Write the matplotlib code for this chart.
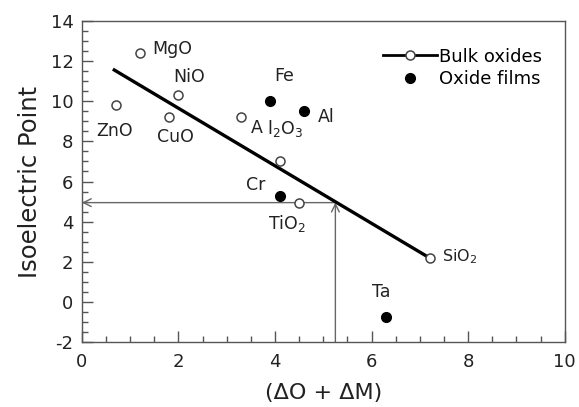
import matplotlib
matplotlib.use("Agg")
import matplotlib.pyplot as plt
from matplotlib.ticker import MultipleLocator

plt.rcParams['font.family'] = ['DejaVu Sans']
plt.rcParams['axes.unicode_minus'] = False

# Bulk oxides (open circles)
bulk_names = ["ZnO", "MgO", "CuO", "NiO", "Al2O3", "", "TiO2", "SiO2"]
bulk_x = [0.7, 1.2, 1.8, 2.0, 3.3, 4.1, 4.5, 7.2]
bulk_y = [9.8, 12.4, 9.2, 10.3, 9.2, 7.0, 4.95, 2.2]

# Oxide films (filled circles)
film_names = ["Fe", "Al", "Cr", "Ta"]
film_x = [3.9, 4.6, 4.1, 6.3]
film_y = [10.0, 9.5, 5.3, -0.75]

# Trend line through the bulk oxides
trend_x = [0.67, 7.2]
trend_y = [11.55, 2.2]

# Reading of the trend line
read_x = 5.25
read_y = 4.95

fig = plt.figure(figsize=(5.79, 4.07), dpi=100)
ax = fig.add_axes([0.1415, 0.159, 0.8338, 0.79])

frame_col = "#555555"
ax.plot(trend_x, trend_y, color="black", lw=2.4, zorder=3)
ax.plot(bulk_x, bulk_y, "o", mfc="white", mec="#444444", mew=1.1, ms=6.5, zorder=4)
ax.plot(film_x, film_y, "o", color="black", ms=7, zorder=4)

# Arrows showing the reading of the line
arrow_kw = dict(arrowstyle="->", color="#666666", lw=1.0, mutation_scale=14, shrinkA=0, shrinkB=0)
ax.annotate("", xy=(0, read_y), xytext=(read_x, read_y), arrowprops=arrow_kw, zorder=2)
ax.annotate("", xy=(read_x, read_y), xytext=(read_x, -2), arrowprops=arrow_kw, zorder=2)

lab = dict(fontsize=12.5, color="#222222")
ax.text(1.46, 12.6, "MgO", va="center", ha="left", **lab)
ax.text(1.89, 11.2, "NiO", va="center", ha="left", **lab)
ax.text(0.29, 8.5, "ZnO", va="center", ha="left", **lab)
ax.text(1.56, 8.2, "CuO", va="center", ha="left", **lab)
ax.text(3.5, 8.66, "A", va="center", ha="left", **lab)
ax.text(3.84, 8.66, "l$_2$O$_3$", va="center", ha="left", **lab)
ax.text(3.85, 3.9, "TiO$_2$", va="center", ha="left", **lab)
ax.text(7.45, 2.25, "SiO$_2$", va="center", ha="left", fontsize=11.5, color="#222222")
ax.text(4.18, 11.25, "Fe", va="center", ha="center", **lab)
ax.text(4.89, 9.2, "Al", va="center", ha="left", **lab)
ax.text(3.6, 5.85, "Cr", va="center", ha="center", **lab)
ax.text(6.2, 0.5, "Ta", va="center", ha="center", **lab)

# Legend
h1, = ax.plot([], [], "-o", color="black", lw=2, mfc="white", mec="#444444", mew=1.1, ms=6.5)
h2, = ax.plot([], [], "o", color="black", ms=7)
ax.legend([h1, h2], ["Bulk oxides", "Oxide films"], loc="upper right",
          bbox_to_anchor=(0.975, 0.95), frameon=False, fontsize=13,
          handlelength=3.0, handletextpad=0.1, labelspacing=0.25, borderaxespad=0.2)

ax.set_xlim(0, 10)
ax.set_ylim(-2, 14)
ax.xaxis.set_major_locator(MultipleLocator(2))
ax.xaxis.set_minor_locator(MultipleLocator(0.5))
ax.yaxis.set_major_locator(MultipleLocator(2))
ax.yaxis.set_minor_locator(MultipleLocator(0.5))
ax.tick_params(which="both", direction="in", colors=frame_col, labelcolor="#222222",
               top=False, right=False)
ax.tick_params(which="major", length=8, width=1.0, labelsize=13)
ax.tick_params(axis="x", which="major", pad=8)
ax.tick_params(axis="y", which="major", pad=6)
ax.tick_params(which="minor", length=4, width=1.0)
for s in ax.spines.values():
    s.set_color(frame_col)
    s.set_linewidth(1.0)

ax.set_xlabel("(ΔO + ΔM)", fontsize=16, color="#222222", labelpad=8)
ax.set_ylabel("Isoelectric Point", fontsize=17.5, color="#222222", labelpad=6)

fig.savefig("out.png", dpi=100)
